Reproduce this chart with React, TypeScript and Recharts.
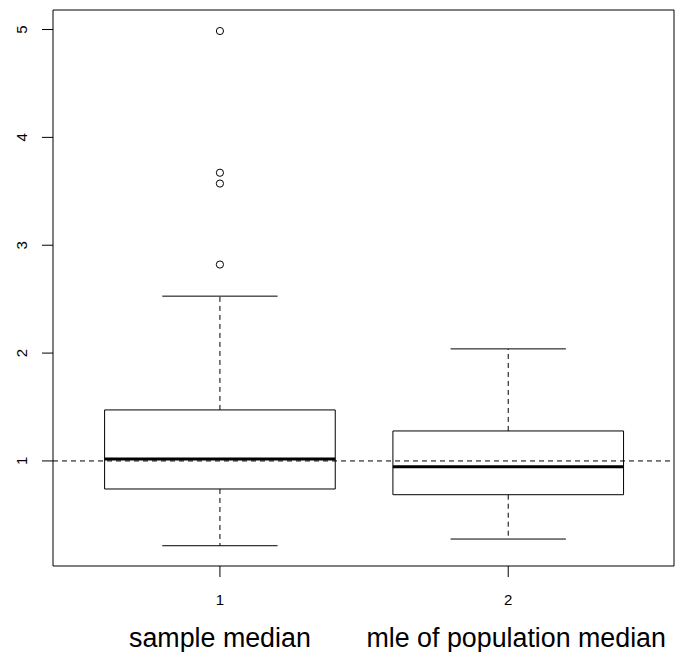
import React from "react";
import {
  ComposedChart,
  XAxis,
  YAxis,
  Scatter,
  ReferenceArea,
  ReferenceLine,
} from "recharts";

const categories = ["sample median", "mle of population median"];
const positions = [1, 2];
const lowerWhisker = [0.214, 0.276];
const q1 = [0.74, 0.687];
const medians = [1.019, 0.947];
const q3 = [1.473, 1.278];
const upperWhisker = [2.528, 2.039];
const outliers1 = [4.986, 3.672, 3.572, 2.821];
const yTicks = [1, 2, 3, 4, 5];
const refValue = 1;

const X_DOMAIN: [number, number] = [0.421, 2.575];
const Y_DOMAIN: [number, number] = [0.026, 5.181];
const BOX_HALF = 0.4;
const CAP_HALF = 0.2;
const FONT = "'Liberation Sans', Arial, Helvetica, sans-serif";
const labelShift = [0, 8];

const outlierData = outliers1.map((v) => ({ x: positions[0], y: v }));

const YTick = (props: any) => {
  const { x, y, payload } = props;
  const tx = x - 13;
  return (
    <text
      x={tx}
      y={y}
      transform={`rotate(-90, ${tx}, ${y})`}
      textAnchor="middle"
      style={{ fontFamily: FONT, fontSize: 15, fill: "#000" }}
    >
      {payload.value}
    </text>
  );
};

const XTick = (props: any) => {
  const { x, y, payload } = props;
  const idx = positions.indexOf(payload.value);
  const dx = idx >= 0 ? labelShift[idx] : 0;
  return (
    <g>
      <text x={x} y={y + 26} textAnchor="middle" style={{ fontFamily: FONT, fontSize: 15, fill: "#000" }}>
        {payload.value}
      </text>
      <text x={x + dx} y={y + 68} textAnchor="middle" style={{ fontFamily: FONT, fontSize: 26.8, fill: "#000" }}>
        {idx >= 0 ? categories[idx] : ""}
      </text>
    </g>
  );
};

const Circle = (props: any) => {
  const { cx, cy } = props;
  return <circle cx={cx} cy={cy} r={3.6} fill="none" stroke="#000" strokeWidth={1} />;
};

export default function App() {
  return (
    <div style={{ position: "absolute", left: 0, top: 0, width: 675, height: 652, background: "#fff" }}>
      <ComposedChart
        width={675}
        height={652}
        margin={{ top: 10, right: 1, left: 0, bottom: 0 }}
        data={outlierData}
      >
        <XAxis
          type="number"
          dataKey="x"
          domain={X_DOMAIN}
          allowDataOverflow
          ticks={positions}
          tickSize={11}
          height={86}
          axisLine={false}
          tickLine={{ stroke: "#000" }}
          tick={<XTick />}
          interval={0}
        />
        <YAxis
          type="number"
          dataKey="y"
          domain={Y_DOMAIN}
          allowDataOverflow
          ticks={yTicks}
          tickSize={11}
          width={53}
          axisLine={false}
          tickLine={{ stroke: "#000" }}
          tick={<YTick />}
          interval={0}
        />
        {positions.map((p, i) => (
          <React.Fragment key={"box" + i}>
            <ReferenceLine
              segment={[{ x: p, y: q3[i] }, { x: p, y: upperWhisker[i] }]}
              stroke="#000"
              strokeDasharray="5 4"
            />
            <ReferenceLine
              segment={[{ x: p, y: q1[i] }, { x: p, y: lowerWhisker[i] }]}
              stroke="#000"
              strokeDasharray="5 4"
            />
            <ReferenceLine
              segment={[{ x: p - CAP_HALF, y: upperWhisker[i] }, { x: p + CAP_HALF, y: upperWhisker[i] }]}
              stroke="#000"
            />
            <ReferenceLine
              segment={[{ x: p - CAP_HALF, y: lowerWhisker[i] }, { x: p + CAP_HALF, y: lowerWhisker[i] }]}
              stroke="#000"
            />
            <ReferenceArea
              x1={p - BOX_HALF}
              x2={p + BOX_HALF}
              y1={q1[i]}
              y2={q3[i]}
              fill="none"
              fillOpacity={0}
              stroke="#000"
              strokeOpacity={1}
              strokeWidth={1}
            />
            <ReferenceLine
              segment={[{ x: p - BOX_HALF, y: medians[i] }, { x: p + BOX_HALF, y: medians[i] }]}
              stroke="#000"
              strokeWidth={3}
            />
          </React.Fragment>
        ))}
        <Scatter dataKey="y" data={outlierData} shape={<Circle />} isAnimationActive={false} />
        <ReferenceLine y={refValue} stroke="#000" strokeDasharray="5 4" />
        <ReferenceArea
          x1={X_DOMAIN[0]}
          x2={X_DOMAIN[1]}
          y1={Y_DOMAIN[0]}
          y2={Y_DOMAIN[1]}
          fill="none"
          fillOpacity={0}
          stroke="#000"
          strokeOpacity={1}
          strokeWidth={1}
        />
      </ComposedChart>
    </div>
  );
}
